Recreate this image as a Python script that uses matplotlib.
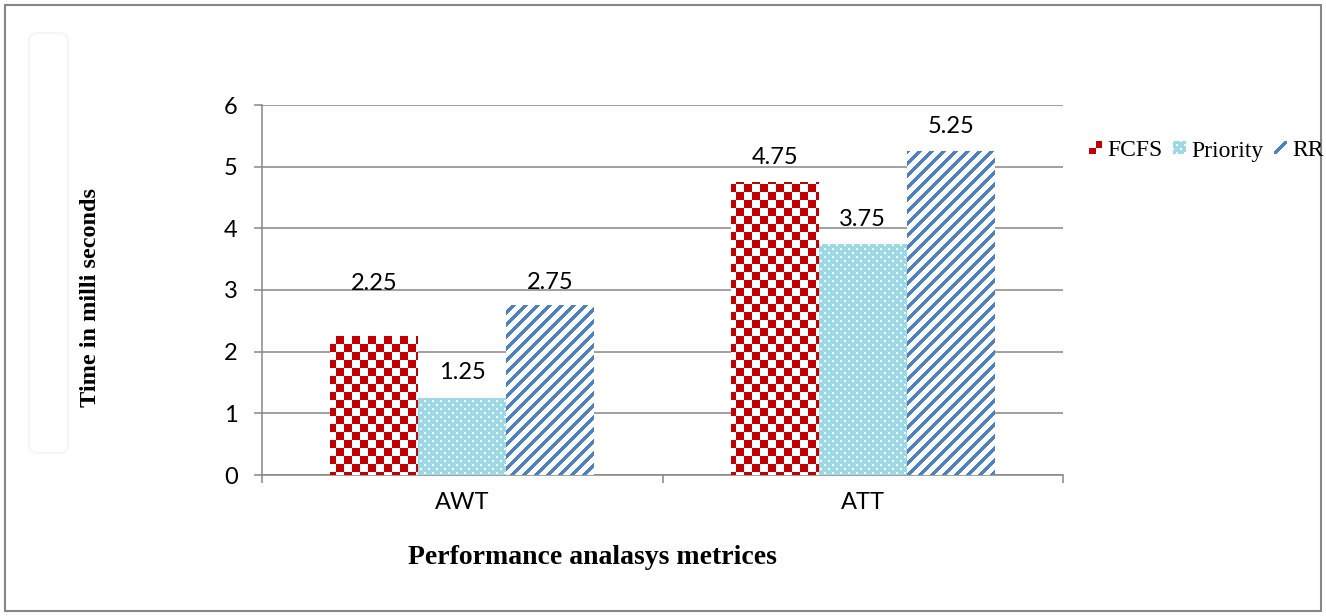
import numpy as np
import matplotlib
matplotlib.use("Agg")
import matplotlib.pyplot as plt
from matplotlib.patches import Rectangle, FancyBboxPatch
from matplotlib.transforms import IdentityTransform

# ---- data ----
categories = ["AWT", "ATT"]
series_names = ["FCFS", "Priority", "RR"]
fcfs = [2.25, 4.75]
priority = [1.25, 3.75]
rr = [2.75, 5.25]
y_ticks = [0, 1, 2, 3, 4, 5, 6]

# ---- style ----
W, H, DPI = 1326, 616, 100
RED = (192, 0, 0)
LIGHT = (157, 216, 231)
BLUE = (79, 129, 189)
WHITE = (255, 255, 255)
GRID = "#868686"
TICK_FONT = "Lato"
SERIF = "Liberation Serif"
TICK_SIZE = 17

# label gap above each bar top, in pixels (per series, per category)
label_gap = [[46, 18], [19, 18], [16, 18]]


def checker(X, Y):
    on = ((X // 8) + (Y // 8)) % 2 == 0
    return on, RED, WHITE


def dotted(X, Y):
    row = Y // 4
    on = (Y % 4 < 2) & (((X + (row % 2) * 4) % 8) < 2)
    return on, WHITE, LIGHT


def stripes(X, Y):
    on = ((X + Y) % 12) < 5
    return on, BLUE, WHITE


patterns = [checker, dotted, stripes]


def texture(fn, X, Y):
    on, c_on, c_off = fn(X, Y)
    arr = np.empty(X.shape + (3,), dtype=np.uint8)
    arr[:] = c_off
    arr[on] = c_on
    return arr


fig = plt.figure(figsize=(W / DPI, H / DPI), dpi=DPI)
fig.patch.set_facecolor("white")

# outer frame and a faint rounded panel on the left
fig.add_artist(Rectangle((5, H - 611), 1316, 606, transform=IdentityTransform(),
                         fill=False, edgecolor=GRID, linewidth=1.5))
fig.add_artist(FancyBboxPatch((29, H - 453), 39, 420, transform=IdentityTransform(),
                              boxstyle="round,pad=0,rounding_size=8",
                              fill=False, edgecolor="#F6F6F6", linewidth=1.5))

ax = fig.add_axes([262 / W, (H - 475) / H, 801 / W, 370 / H])
ax.set_xlim(-0.5, len(categories) - 0.5)
ax.set_ylim(0, 6)

x = np.arange(len(categories))
width = 0.22
offsets = [-width, 0.0, width]
all_series = [fcfs, priority, rr]
base_colors = ["#C00000", "#9DD8E7", "#4F81BD"]

bar_groups = []
for vals, off, col in zip(all_series, offsets, base_colors):
    bars = ax.bar(x + off, vals, width, color=col, linewidth=0, zorder=2)
    bar_groups.append(bars)

# fill each bar with its pixel pattern, following the bar extents
for bars, fn in zip(bar_groups, patterns):
    for rect in bars:
        (dx0, dy0), (dx1, dy1) = ax.transData.transform(
            [(rect.get_x(), rect.get_y()),
             (rect.get_x() + rect.get_width(), rect.get_y() + rect.get_height())])
        c0, c1 = int(round(dx0)), int(round(dx1))
        r0, r1 = int(round(H - dy1)), int(round(H - dy0))
        X, Y = np.meshgrid(np.arange(c0, c1), np.arange(r0, r1))
        img = texture(fn, X, Y)
        fig.figimage(img, xo=c0, yo=H - r1, origin="upper", zorder=3)

# value labels
for si, (vals, off) in enumerate(zip(all_series, offsets)):
    for ci, v in enumerate(vals):
        ax.annotate(f"{v:g}", (x[ci] + off, v), xytext=(0, label_gap[si][ci] * 72 / DPI),
                    textcoords="offset points", ha="center", va="baseline",
                    fontsize=TICK_SIZE, family=TICK_FONT, color="black", zorder=4)

# axes styling
ax.set_axisbelow(True)
ax.yaxis.grid(True, color=GRID, linewidth=1.1)
for s in ["top", "right"]:
    ax.spines[s].set_visible(False)
for s in ["left", "bottom"]:
    ax.spines[s].set_color(GRID)
    ax.spines[s].set_linewidth(1.1)

ax.set_yticks(y_ticks)
ax.set_yticklabels([str(t) for t in y_ticks], family=TICK_FONT, fontsize=TICK_SIZE)
ax.tick_params(axis="y", length=5.5, width=1.1, color=GRID, pad=12)

ax.set_xticks([-0.5, 0.5, 1.5])
ax.set_xticklabels([])
ax.tick_params(axis="x", which="major", length=6, width=1.1, color=GRID)
ax.set_xticks(x, minor=True)
ax.set_xticklabels(categories, minor=True, family=TICK_FONT, fontsize=TICK_SIZE)
ax.tick_params(axis="x", which="minor", length=0, pad=12)

# axis titles
fig.text(90 / W, 1 - 297 / H, "Time in milli seconds", rotation=90, ha="center",
         va="center", fontsize=17.5, fontweight="bold", family=SERIF)
fig.text(592 / W, 1 - 557 / H, "Performance analasys metrices", ha="center",
         va="center", fontsize=20, fontweight="bold", family=SERIF)

# legend: small patterned keys followed by series names
key_left = [1089, 1173, 1274]
text_left = [1107, 1191, 1292]
key_top, key_size = 141, 13
for i, name in enumerate(series_names):
    X, Y = np.meshgrid(np.arange(key_size), np.arange(key_size))
    if i == 0:
        on = ((X // 7) + (Y // 7)) % 2 == 1
        key = np.empty((key_size, key_size, 3), np.uint8)
        key[:] = WHITE
        key[on] = RED
    elif i == 1:
        key = texture(dotted, X + key_left[i], Y + key_top)
    else:
        on = np.abs((X + Y) - (key_size - 1)) <= 2
        key = np.empty((key_size, key_size, 3), np.uint8)
        key[:] = WHITE
        key[on] = BLUE
    fig.figimage(key, xo=key_left[i], yo=H - key_top - key_size, origin="upper", zorder=3)
    fig.text(text_left[i] / W, 1 - 151 / H, name, ha="left", va="center",
             fontsize=17, family=SERIF)

fig.savefig("out.png", dpi=DPI, facecolor="white")
